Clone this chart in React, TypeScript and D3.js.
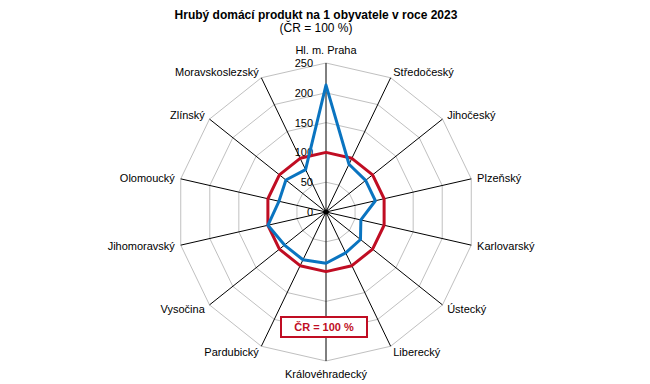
import React from "react";
import * as d3 from "d3";

const regions = [
  "Hl. m. Praha", "Středočeský", "Jihočeský", "Plzeňský", "Karlovarský", "Ústecký", "Liberecký",
  "Královéhradecký", "Pardubický", "Vysočina", "Jihomoravský", "Olomoucký", "Zlínský", "Moravskoslezský",
];
const hdpValues = [213, 89, 85, 85, 60, 74, 76, 86, 89, 89, 100, 81, 86, 79];
const crValues = [100, 100, 100, 100, 100, 100, 100, 100, 100, 100, 100, 100, 100, 100];
const ticks = [0, 50, 100, 150, 200, 250];

const W = 650, H = 384;
const cx = 326, cy = 212, R = 149;
const font = "'Liberation Sans', Arial, sans-serif";

export default function App() {
  const r = d3.scaleLinear().domain([0, 250]).range([0, R]);
  const angle = (i: number) => (i / regions.length) * 2 * Math.PI;
  const pt = (i: number, v: number): [number, number] => [
    cx + r(v) * Math.sin(angle(i)),
    cy - r(v) * Math.cos(angle(i)),
  ];
  const line = d3.line<number>().x((v, i) => pt(i, v)[0]).y((v, i) => pt(i, v)[1]).curve(d3.curveLinearClosed);

  return (
    <svg width={W} height={H} style={{ position: "absolute", left: 0, top: 0 }} fontFamily={font}>
      <rect width={W} height={H} fill="#fff" />
      <text x={316} y={19} textAnchor="middle" fontSize={12} fontWeight="bold">
        Hrubý domácí produkt na 1 obyvatele v roce 2023
      </text>
      <text x={316} y={32} textAnchor="middle" fontSize={12}>(ČR = 100 %)</text>

      {ticks.slice(1).map((t) => (
        <path key={t} d={line(regions.map(() => t)) || ""} fill="none" stroke="#c0c0c0" strokeWidth={1} />
      ))}
      {regions.map((name, i) => {
        const [x, y] = pt(i, 250);
        return <line key={name} x1={cx} y1={cy} x2={x} y2={y} stroke="#000" strokeWidth={1} />;
      })}
      {regions.map((name, i) => {
        const [x, y] = pt(i, 250);
        const s = Math.sin(angle(i)), c = -Math.cos(angle(i));
        const mid = Math.abs(s) < 0.1;
        const off = mid ? 13 : 6;
        return (
          <text key={name} x={x + s * off} y={y + c * off} fontSize={11}
            textAnchor={mid ? "middle" : s > 0 ? "start" : "end"} dominantBaseline="central">
            {name}
          </text>
        );
      })}
      {ticks.map((t) => (
        <text key={t} x={cx - 13} y={cy - r(t)} fontSize={11} textAnchor="end" dominantBaseline="central">
          {t}
        </text>
      ))}
      <path d={line(crValues) || ""} fill="none" stroke="#c00d23" strokeWidth={3} strokeLinejoin="round" />
      <path d={line(hdpValues) || ""} fill="none" stroke="#0a74c0" strokeWidth={3} strokeLinejoin="round" />
      <circle cx={cx} cy={cy} r={2.5} fill="#000" />

      <rect x={281} y={317} width={86} height={20} fill="#fff" stroke="#c00d23" strokeWidth={2} />
      <text x={324} y={327} textAnchor="middle" dominantBaseline="central" fontSize={11} fontWeight="bold" fill="#c00d23">
        ČR = 100 %
      </text>
    </svg>
  );
}
